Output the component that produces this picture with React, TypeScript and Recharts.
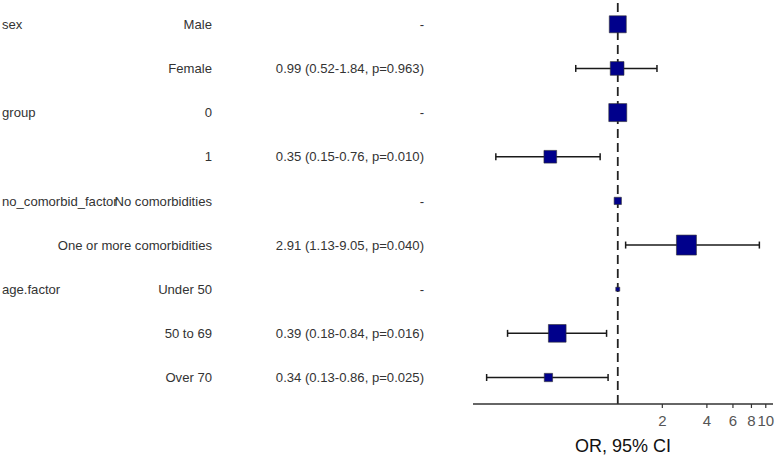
import { ScatterChart, Scatter, XAxis, YAxis, ZAxis, ErrorBar, ReferenceLine } from "recharts"

// forest plot rows, top to bottom
const variables = ["sex", "", "group", "", "no_comorbid_factor", "", "age.factor", "", ""]
const levels = ["Male", "Female", "0", "1", "No comorbidities", "One or more comorbidities", "Under 50", "50 to 69", "Over 70"]
const orLabels = [
  "-",
  "0.99 (0.52-1.84, p=0.963)",
  "-",
  "0.35 (0.15-0.76, p=0.010)",
  "-",
  "2.91 (1.13-9.05, p=0.040)",
  "-",
  "0.39 (0.18-0.84, p=0.016)",
  "0.34 (0.13-0.86, p=0.025)",
]
const oddsRatio = [1, 0.99, 1, 0.35, 1, 2.91, 1, 0.39, 0.34]
const lower: (number | null)[] = [null, 0.52, null, 0.15, null, 1.13, null, 0.18, 0.13]
const upper: (number | null)[] = [null, 1.84, null, 0.76, null, 9.05, null, 0.84, 0.86]
// relative group size (drives square area)
const counts = [289, 188, 324, 161, 53, 400, 16, 313, 69]
const xTicks = [2, 4, 6, 8, 10]

const rows = levels.map((lv, i) => ({
  row: i + 1,
  level: lv,
  or: oddsRatio[i],
  n: counts[i],
  err: lower[i] == null ? null : [oddsRatio[i] - (lower[i] as number), (upper[i] as number) - oddsRatio[i]],
}))

// log-axis limits with 5% expansion like ggplot
const lo = Math.log10(Math.min(...(lower.filter((v) => v != null) as number[])))
const hi = Math.log10(Math.max(...(upper.filter((v) => v != null) as number[])))
const pad = (hi - lo) * 0.05
const xDomain = [Math.pow(10, lo - pad), Math.pow(10, hi + pad)]

const font = "'Liberation Sans', Arial, Helvetica, sans-serif"

const RowTick = ({ y, payload }: any) => {
  const i = payload.value - 1
  return (
    <g fontFamily={font} fontSize={13.1} fill="#333">
      <text x={2} y={y} dy="0.355em" textAnchor="start">{variables[i]}</text>
      <text x={212} y={y} dy="0.355em" textAnchor="end">{levels[i]}</text>
      <text x={424} y={y} dy="0.355em" textAnchor="end">{orLabels[i]}</text>
    </g>
  )
}

export default function App() {
  return (
    <div style={{ position: "absolute", left: 0, top: 0, background: "#fff" }}>
      <ScatterChart width={777} height={455} margin={{ top: 0, right: 4, bottom: 0, left: 0 }}>
        <XAxis
          type="number"
          dataKey="or"
          scale="log"
          domain={xDomain}
          allowDataOverflow
          ticks={xTicks}
          interval={0}
          tick={{ fill: "#555", fontSize: 15, fontFamily: font }}
          tickSize={4}
          tickMargin={7}
          tickLine={{ stroke: "#333", strokeWidth: 1.2 }}
          axisLine={{ stroke: "#333", strokeWidth: 1.6 }}
          height={51}
          label={{ value: "OR, 95% CI", position: "insideBottom", offset: 3, fontSize: 18, fill: "#111", fontFamily: font }}
        />
        <YAxis
          type="number"
          dataKey="row"
          domain={[0.45, 9.6]}
          allowDataOverflow
          reversed
          ticks={[1, 2, 3, 4, 5, 6, 7, 8, 9]}
          interval={0}
          width={473}
          axisLine={false}
          tickLine={false}
          tick={<RowTick />}
        />
        <ZAxis type="number" dataKey="n" domain={[0, 400]} range={[0, 400]} />
        <Scatter data={rows} shape="square" fill="#00008B" stroke="#333" strokeWidth={0.6} isAnimationActive={false} />
        <Scatter data={rows} shape={() => <g />} isAnimationActive={false}>
          <ErrorBar dataKey="err" direction="x" width={3.5} stroke="#1a1a1a" strokeWidth={1.5} isAnimationActive={false} />
        </Scatter>
        <ReferenceLine x={1} stroke="#222" strokeWidth={1.8} strokeDasharray="9 5" />
      </ScatterChart>
    </div>
  )
}
